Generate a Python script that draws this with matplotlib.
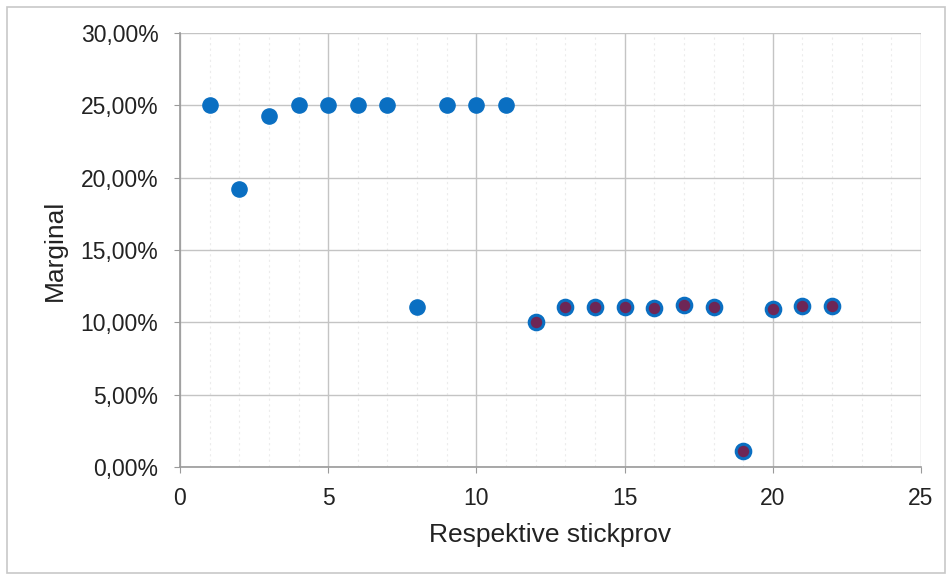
import matplotlib
matplotlib.use('Agg')
import matplotlib.pyplot as plt
from matplotlib.ticker import FuncFormatter, MultipleLocator
from matplotlib.patches import Rectangle

plt.rcParams['font.family'] = ['Liberation Sans', 'DejaVu Sans']

# stickprov 1-11 (blue) and 12-22 (dark red with blue edge)
x_first = [1, 2, 3, 4, 5, 6, 7, 8, 9, 10, 11]
y_first = [25.0, 19.2, 24.25, 25.0, 25.0, 25.0, 25.0, 11.05, 25.0, 25.0, 25.0]
x_second = [12, 13, 14, 15, 16, 17, 18, 19, 20, 21, 22]
y_second = [10.0, 11.05, 11.05, 11.05, 11.0, 11.2, 11.05, 1.1, 10.9, 11.1, 11.1]

fig = plt.figure(figsize=(9.53, 5.78), dpi=100)
ax = fig.add_axes([180 / 953, 111 / 578, 741 / 953, 434 / 578])

# outer chart border
fig.patches.append(Rectangle((7 / 953, 5 / 578), 938 / 953, 566 / 578,
                             transform=fig.transFigure, fill=False,
                             edgecolor='#c8c8c8', linewidth=1.2))

ax.scatter(x_first, y_first, s=120, color='#0a6fc2', zorder=3)
ax.scatter(x_second, y_second, s=110, facecolor='#6e2656',
           edgecolor='#0a6fc2', linewidths=2.2, zorder=3)

ax.set_xlim(0, 25)
ax.set_ylim(0, 30)
ax.xaxis.set_major_locator(MultipleLocator(5))
ax.xaxis.set_minor_locator(MultipleLocator(1))
ax.yaxis.set_major_locator(MultipleLocator(5))
ax.yaxis.set_major_formatter(FuncFormatter(lambda v, p: f'{v:.2f}%'.replace('.', ',')))

ax.grid(which='major', color='#c4c4c4', linewidth=1.0)
ax.grid(which='minor', axis='x', color='#ececec', linewidth=0.8, linestyle=(0, (2, 3)))
ax.set_axisbelow(True)

for side in ['top', 'right']:
    ax.spines[side].set_visible(False)
for side in ['left', 'bottom']:
    ax.spines[side].set_color('#9a9a9a')
    ax.spines[side].set_linewidth(1.2)

ax.tick_params(which='major', length=4.5, color='#9a9a9a', labelsize=16.5,
               labelcolor='#222222')
ax.tick_params(axis='y', pad=11)
ax.tick_params(axis='x', pad=10)
ax.tick_params(which='minor', length=0)

ax.set_xlabel('Respektive stickprov', fontsize=19, color='#222222', labelpad=9)
ax.set_ylabel('Marginal', fontsize=19, color='#222222', labelpad=10)

plt.savefig('out.png', dpi=100)
